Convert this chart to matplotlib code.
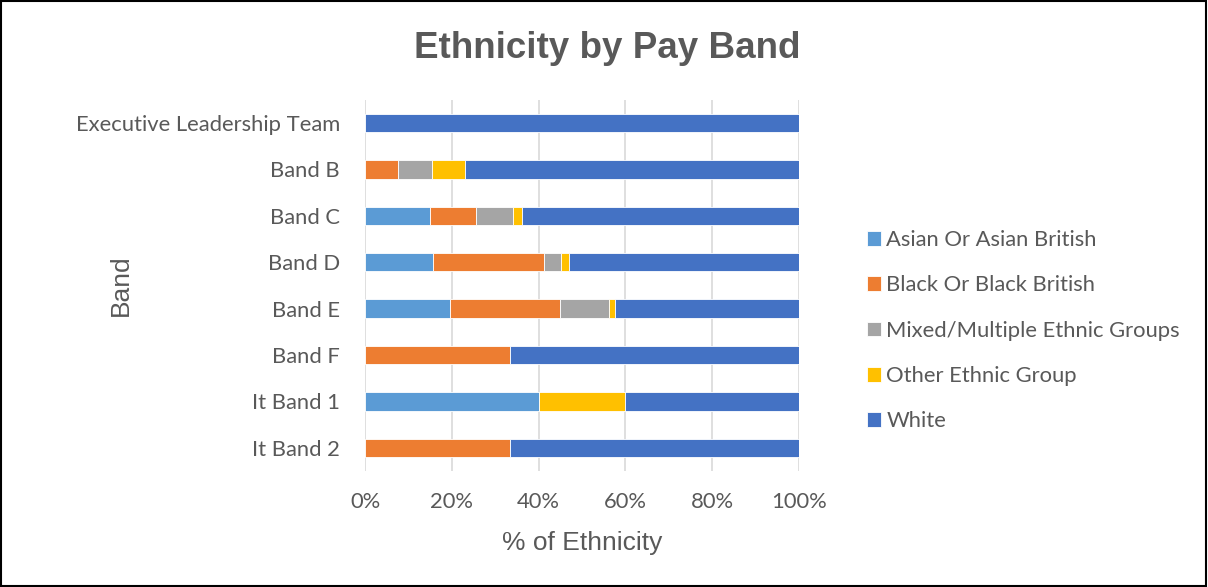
import numpy as np
import matplotlib.pyplot as plt
from matplotlib.patches import Rectangle

# Pay bands, top to bottom
bands = ["Executive Leadership Team", "Band B", "Band C", "Band D",
         "Band E", "Band F", "It Band 1", "It Band 2"]

# Percentage share of each ethnic group in each band
asian = [0, 0, 14.9, 15.7, 19.6, 0, 40.0, 0]
black = [0, 7.7, 10.6, 25.5, 25.3, 33.3, 0, 33.3]
mixed = [0, 7.7, 8.5, 3.9, 11.3, 0, 0, 0]
other = [0, 7.7, 2.1, 2.0, 1.5, 0, 20.0, 0]
white = [100.0, 76.9, 63.8, 52.9, 42.3, 66.7, 40.0, 66.7]

groups = ["Asian Or Asian British", "Black Or Black British",
          "Mixed/Multiple Ethnic Groups", "Other Ethnic Group", "White"]
colors = ["#5B9BD5", "#ED7D31", "#A5A5A5", "#FFC000", "#4472C4"]

txt = "#595959"
fs = 15.8
fig = plt.figure(figsize=(12.08, 5.87), dpi=100)
ax = fig.add_axes([0.3022, 0.1976, 0.3593, 0.6325])

y = np.arange(len(bands))
left = np.zeros(len(bands))
for vals, name, c in zip([asian, black, mixed, other, white], groups, colors):
    vals = np.array(vals)
    ax.barh(y, vals, left=left, height=0.395, color=c, label=name,
            edgecolor="white", linewidth=0.6, zorder=3)
    left += vals

ax.set_ylim(len(bands) - 0.5, -0.5)
ax.set_xlim(0, 100)
ax.set_yticks(y)
ax.set_yticklabels(bands, family="Lato", fontsize=fs, color=txt)
ax.set_xticks(np.arange(0, 101, 20))
ax.set_xticklabels([f"{v}%" for v in range(0, 101, 20)], family="Lato",
                   fontsize=fs, color=txt)
ax.tick_params(axis="y", length=0, pad=18)
ax.tick_params(axis="x", length=0, pad=15)
ax.grid(axis="x", color="#D9D9D9", linewidth=1.2, zorder=0)
for s in ax.spines.values():
    s.set_visible(False)

ax.set_xlabel("% of Ethnicity", family="Liberation Sans", fontsize=19,
              color=txt, labelpad=14)
ax.set_ylabel("Band", family="Liberation Sans", fontsize=19, color=txt)
ax.yaxis.set_label_coords(-0.535, 0.5)

fig.suptitle("Ethnicity by Pay Band", family="Liberation Sans",
             fontweight="bold", fontsize=26.5, color=txt, x=0.503, y=0.948)

leg = ax.legend(loc="center left", bbox_to_anchor=(1.11, 0.378), frameon=False,
                prop={"family": "Lato", "size": fs}, labelcolor=txt,
                handlelength=0.65, handleheight=0.65, handletextpad=0.25,
                labelspacing=1.15)

# thin frame around the whole figure
fig.patches.append(Rectangle((0.001, 0.002), 0.997, 0.996, transform=fig.transFigure,
                             fill=False, edgecolor="black", linewidth=1.5))

fig.savefig("out.png", dpi=100)
